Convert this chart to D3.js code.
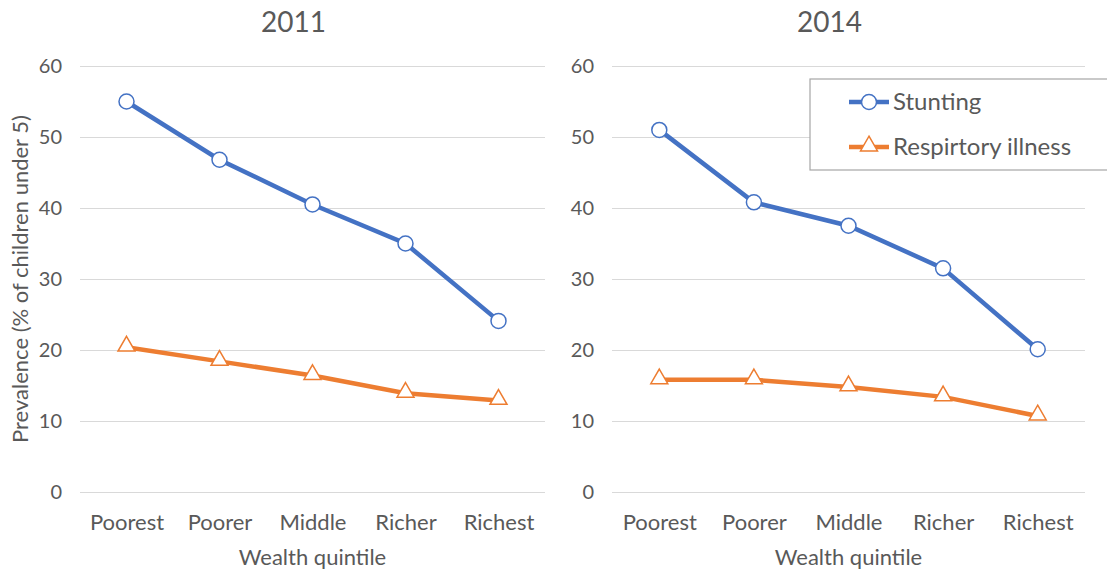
<!DOCTYPE html>
<meta charset="utf-8">
<style>
body { margin: 0; background: #fff; }
text { font-family: "Lato", "Open Sans", sans-serif; fill: #595959; }
.grid line { stroke: #d9d9d9; stroke-width: 1px; }
.grid path { display: none; }
.title { font-size: 28px; }
.axis-title { font-size: 22px; }
.legend text { font-size: 24px; }
</style>
<body>
<svg id="svg" width="1107" height="575"></svg>
<script src="https://cdn.jsdelivr.net/npm/d3@7"></script>
<script>

var quintiles = ["Poorest", "Poorer", "Middle", "Richer", "Richest"];
var years = ["2011", "2014"];
var stunting2011 = [55.0, 46.8, 40.5, 35.0, 24.1];
var respiratory2011 = [20.4, 18.4, 16.4, 13.9, 12.9];
var stunting2014 = [51.0, 40.8, 37.5, 31.5, 20.1];
var respiratory2014 = [15.8, 15.8, 14.8, 13.4, 10.7];
var yTicks = [0, 10, 20, 30, 40, 50, 60];
var seriesNames = ["Stunting", "Respirtory illness"];

var blue = "#4472c4", orange = "#ed7d31";

var svg = d3.select("#svg");

var panels = [
  {year: years[0], left: 80, right: 545, stunting: stunting2011, resp: respiratory2011},
  {year: years[1], left: 612, right: 1085, stunting: stunting2014, resp: respiratory2014}
];

var y = d3.scaleLinear().domain([0, 60]).range([492, 66]);

var triangle = d3.symbol().type(d3.symbolTriangle).size(125);

panels.forEach(function(p) {
  var x = d3.scalePoint().domain(quintiles).range([p.left, p.right]).padding(0.5);
  var g = svg.append("g");

  // gridlines + y labels
  g.append("g")
      .attr("class", "grid yax")
      .attr("transform", "translate(" + p.left + ",0)")
      .call(d3.axisLeft(y).tickValues(yTicks).tickSize(-(p.right - p.left)).tickPadding(18));

  // x labels
  g.append("g")
      .attr("class", "grid xax")
      .attr("transform", "translate(0,492)")
      .call(d3.axisBottom(x).tickSize(0).tickPadding(22))
    .select(".domain").remove();

  g.append("text")
      .attr("class", "title")
      .attr("x", (p.left + p.right) / 2 - 19)
      .attr("y", 32)
      .attr("text-anchor", "middle")
      .text(p.year);

  g.append("text")
      .attr("class", "axis-title")
      .attr("x", (p.left + p.right) / 2)
      .attr("y", 565)
      .attr("text-anchor", "middle")
      .text("Wealth quintile");

  var line = d3.line()
      .x(function(d, i) { return x(quintiles[i]); })
      .y(function(d) { return y(d); });

  g.append("path")
      .datum(p.resp)
      .attr("fill", "none")
      .attr("stroke", orange)
      .attr("stroke-width", 4.5)
      .attr("d", line);

  g.selectAll(".tri")
      .data(p.resp)
    .enter().append("path")
      .attr("class", "tri")
      .attr("d", triangle)
      .attr("transform", function(d, i) { return "translate(" + x(quintiles[i]) + "," + (y(d) - 1) + ")"; })
      .attr("fill", "#fff")
      .attr("stroke", orange)
      .attr("stroke-width", 1.5);

  g.append("path")
      .datum(p.stunting)
      .attr("fill", "none")
      .attr("stroke", blue)
      .attr("stroke-width", 4.5)
      .attr("d", line);

  g.selectAll(".dot")
      .data(p.stunting)
    .enter().append("circle")
      .attr("class", "dot")
      .attr("cx", function(d, i) { return x(quintiles[i]); })
      .attr("cy", function(d) { return y(d); })
      .attr("r", 7.5)
      .attr("fill", "#fff")
      .attr("stroke", blue)
      .attr("stroke-width", 1.5);
});

svg.selectAll(".yax .tick text")
    .style("font-size", "20px")
    .attr("fill", "#595959");
svg.selectAll(".xax .tick text")
    .style("font-size", "22px")
    .attr("fill", "#595959");

// y axis title
svg.append("text")
    .attr("class", "axis-title")
    .attr("transform", "translate(28,279) rotate(-90)")
    .attr("text-anchor", "middle")
    .text("Prevalence (% of children under 5)");

// legend
var legend = svg.append("g").attr("class", "legend");
legend.append("rect")
    .attr("x", 810).attr("y", 79)
    .attr("width", 300).attr("height", 91)
    .attr("fill", "#fff")
    .attr("stroke", "#a6a6a6")
    .attr("stroke-width", 1.2);

var legendItems = [
  {name: seriesNames[0], color: blue, y: 102, shape: "circle"},
  {name: seriesNames[1], color: orange, y: 147, shape: "tri"}
];

legendItems.forEach(function(it) {
  legend.append("line")
      .attr("x1", 849).attr("x2", 889)
      .attr("y1", it.y).attr("y2", it.y)
      .attr("stroke", it.color).attr("stroke-width", 4.5);
  if (it.shape === "circle") {
    legend.append("circle")
        .attr("cx", 869).attr("cy", it.y).attr("r", 7.5)
        .attr("fill", "#fff").attr("stroke", it.color).attr("stroke-width", 1.5);
  } else {
    legend.append("path")
        .attr("d", triangle)
        .attr("transform", "translate(869," + (it.y - 1) + ")")
        .attr("fill", "#fff").attr("stroke", it.color).attr("stroke-width", 1.5);
  }
  legend.append("text")
      .attr("x", 893).attr("y", it.y + 8)
      .text(it.name);
});

</script>
</body>
